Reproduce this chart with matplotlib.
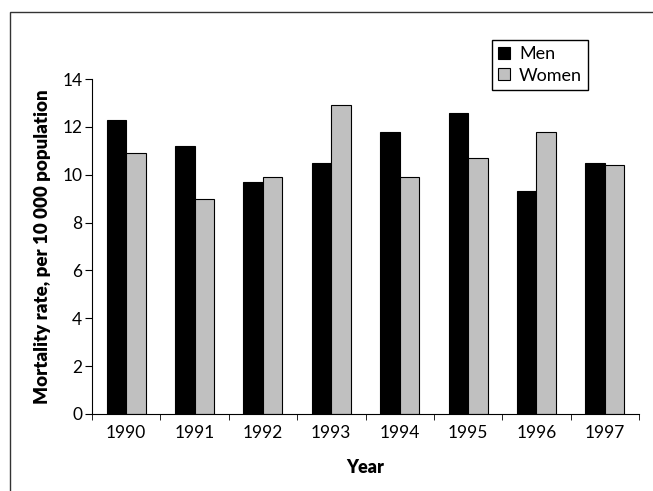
import numpy as np
import matplotlib.pyplot as plt
from matplotlib.patches import Rectangle

plt.rc('font', family=['Lato', 'DejaVu Sans'])

# DATA
years = ['1990', '1991', '1992', '1993', '1994', '1995', '1996', '1997']
men = [12.3, 11.2, 9.7, 10.5, 11.8, 12.6, 9.3, 10.5]
women = [10.9, 9.0, 9.9, 12.9, 9.9, 10.7, 11.8, 10.4]

fig = plt.figure(figsize=(6.53, 4.91), dpi=100)

# outer frame (only top and left visible)
fig.patches.append(Rectangle((10/653, 1 - 12/491 - 2), 2, 2, transform=fig.transFigure,
                             fill=False, edgecolor='#333333', linewidth=1.0))

ax = fig.add_axes([92/653, 77/491, 547/653, 335/491])

x = np.arange(len(years))
w = 1/3.5
ax.bar(x - w/2, men, w, color='black', edgecolor='black', linewidth=0.8, label='Men')
ax.bar(x + w/2, women, w, color='#c0c0c0', edgecolor='black', linewidth=0.8, label='Women')

ax.set_xlim(-0.5, len(years) - 0.5)
ax.set_ylim(0, 14)
ax.set_yticks(range(0, 15, 2))
ax.set_xticks(x)
ax.set_xticklabels(years)
ax.set_xticks(np.arange(-0.5, len(years)), minor=True)
ax.tick_params(axis='x', which='major', length=0, labelsize=12.5, pad=8)
ax.tick_params(axis='x', which='minor', length=4, direction='out')
ax.tick_params(axis='y', length=5, direction='out', labelsize=12.5, pad=2)

for s in ('top', 'right'):
    ax.spines[s].set_visible(False)

ax.set_xlabel('Year', fontweight='heavy', fontsize=13, labelpad=13)
ax.set_ylabel('Mortality rate, per 10 000 population', fontweight='heavy', fontsize=13.5, labelpad=8)

ax.legend(loc='upper left', bbox_to_anchor=(400/547, 1 + 39/335), borderaxespad=0,
          frameon=True, fancybox=False,
          edgecolor='black', fontsize=13, handlelength=0.65, handleheight=0.65,
          handletextpad=0.5, borderpad=0.35, labelspacing=0.3, framealpha=1)

fig.savefig('out.png', dpi=100)
